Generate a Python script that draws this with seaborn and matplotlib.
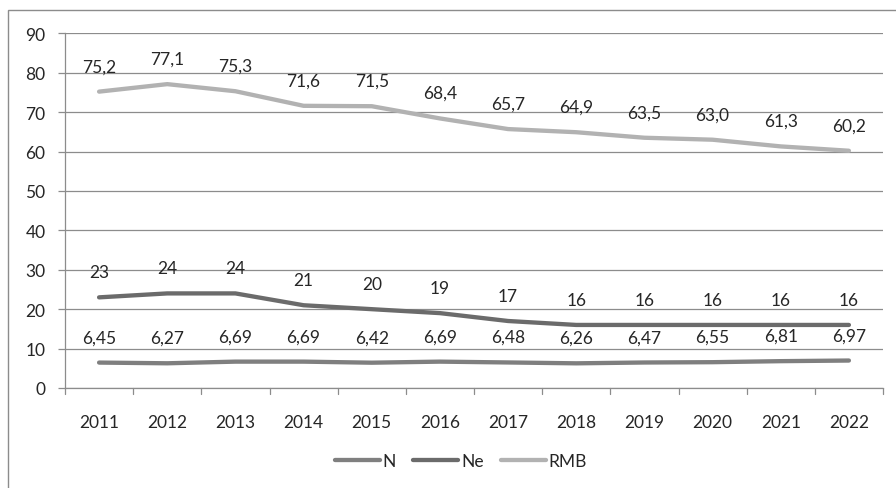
import matplotlib
matplotlib.use("Agg")
import matplotlib.pyplot as plt
import seaborn as sns
import pandas as pd
from matplotlib.patches import Rectangle
from matplotlib.lines import Line2D

years = ["2011", "2012", "2013", "2014", "2015", "2016", "2017", "2018", "2019", "2020", "2021", "2022"]
n_vals = [6.45, 6.27, 6.69, 6.69, 6.42, 6.69, 6.48, 6.26, 6.47, 6.55, 6.81, 6.97]
ne_vals = [23, 24, 24, 21, 20, 19, 17, 16, 16, 16, 16, 16]
rmb_vals = [75.2, 77.1, 75.3, 71.6, 71.5, 68.4, 65.7, 64.9, 63.5, 63.0, 61.3, 60.2]
series_names = ["N", "Ne", "RMB"]
colors = ["#7f7f7f", "#6b6b6b", "#b2b2b2"]

sns.set_theme(style="white")
plt.rcParams['font.family'] = ['Lato', 'DejaVu Sans']
FS = 12.5
TXT = "#262626"
GRID = "#8c8c8c"

rows = []
for name, vals in zip(series_names, [n_vals, ne_vals, rmb_vals]):
    for i, (y, v) in enumerate(zip(years, vals)):
        rows.append({"year": y, "x": i, "value": v, "series": name})
df = pd.DataFrame(rows)

W, H = 896, 489
fig = plt.figure(figsize=(W / 100, H / 100), dpi=100)
ax = fig.add_axes([65 / W, 1 - 389 / H, (883 - 65) / W, (389 - 34.3) / H])

sns.lineplot(data=df, x="x", y="value", hue="series", palette=dict(zip(series_names, colors)),
             linewidth=3.1, ax=ax, legend=False, solid_capstyle="round")

for name, vals in zip(series_names, [n_vals, ne_vals, rmb_vals]):
    for i, v in enumerate(vals):
        if name == "Ne":
            txt = f"{int(v)}"
        elif name == "N":
            txt = f"{v:.2f}".replace(".", ",")
        else:
            txt = f"{v:.1f}".replace(".", ",")
        ax.annotate(txt, (i, v), xytext=(0, 12.5), textcoords="offset points",
                    ha="center", va="bottom", fontsize=FS, color=TXT)

ax.set_xlim(-0.5, len(years) - 0.5)
ax.set_ylim(0, 90)
ax.set_yticks(range(0, 91, 10))
ax.set_xticks(range(len(years)))
ax.set_xticklabels(years)
ax.set_xlabel("")
ax.set_ylabel("")
ax.grid(axis="y", color=GRID, linewidth=0.9)
ax.set_axisbelow(True)
for s in ["top", "right"]:
    ax.spines[s].set_visible(False)
for s in ["left", "bottom"]:
    ax.spines[s].set_color(GRID)
    ax.spines[s].set_linewidth(0.9)
ax.tick_params(axis="y", labelsize=FS, colors=TXT, left=True, length=5, color=GRID, width=0.9, pad=9)
ax.tick_params(axis="x", labelsize=FS, colors=TXT, bottom=False, pad=13)
for b in range(len(years) + 1):
    ax.plot([b - 0.5, b - 0.5], [0, -1.5], color=GRID, lw=0.9, clip_on=False)

handles = [Line2D([0], [0], color=c, lw=3.1, solid_capstyle="round") for c in colors]
fig.legend(handles, series_names, loc="center", bbox_to_anchor=(461 / W, 1 - 462 / H),
           ncol=3, frameon=False, fontsize=FS, handlelength=2.6, handletextpad=0.15,
           columnspacing=1.0)

fig.add_artist(Rectangle((8 / W, -0.05), 1.2, 1.05 - 11 / H, transform=fig.transFigure,
                         fill=False, edgecolor=GRID, linewidth=1.0))

fig.savefig("out.png", dpi=100)
